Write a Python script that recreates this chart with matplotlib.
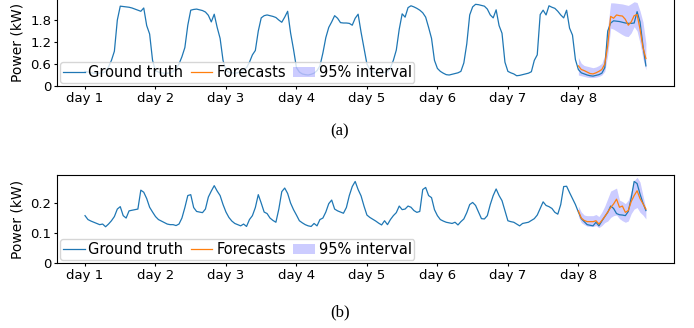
import matplotlib
matplotlib.use("Agg")
import matplotlib.pyplot as plt
import numpy as np

# x axis labels, one per day (hourly data)
day_labels = ["day 1", "day 2", "day 3", "day 4", "day 5", "day 6", "day 7", "day 8"]

# (a) ground truth, hourly, kW
truth_a = [
    0.40, 0.38, 0.36, 0.35, 0.34, 0.35, 0.36, 0.40, 0.52, 0.70, 0.95, 1.80, 2.18, 2.17, 2.16, 2.15, 2.13, 2.10, 2.07, 2.04, 2.13, 1.65, 1.42, 0.70,
    0.42, 0.38, 0.36, 0.35, 0.35, 0.36, 0.40, 0.48, 0.60, 0.80, 1.05, 1.66, 2.07, 2.09, 2.10, 2.08, 2.06, 2.02, 1.93, 1.75, 1.96, 1.60, 1.30, 0.70,
    0.42, 0.38, 0.36, 0.35, 0.36, 0.40, 0.45, 0.50, 0.65, 0.85, 0.97, 1.50, 1.86, 1.92, 1.94, 1.92, 1.90, 1.87, 1.80, 1.74, 1.88, 2.04, 1.45, 1.00,
    0.50, 0.38, 0.33, 0.31, 0.30, 0.32, 0.35, 0.42, 0.55, 0.90, 1.32, 1.60, 1.75, 1.92, 1.85, 1.73, 1.72, 1.72, 1.71, 1.66, 1.85, 1.96, 1.47, 1.04,
    0.60, 0.45, 0.38, 0.37, 0.36, 0.36, 0.37, 0.38, 0.50, 0.70, 0.98, 1.55, 1.97, 1.88, 2.14, 2.19, 2.16, 2.12, 2.07, 2.00, 1.88, 1.60, 1.30, 0.70,
    0.48, 0.40, 0.35, 0.31, 0.30, 0.32, 0.34, 0.36, 0.40, 0.63, 1.15, 1.94, 2.16, 2.23, 2.22, 2.20, 2.18, 2.10, 1.94, 1.86, 2.08, 1.65, 1.44, 0.65,
    0.40, 0.36, 0.33, 0.28, 0.29, 0.31, 0.33, 0.35, 0.39, 0.70, 0.85, 1.95, 2.07, 1.94, 2.19, 2.15, 2.12, 2.04, 1.94, 1.86, 2.07, 1.58, 1.39, 0.72,
    0.45, 0.36, 0.33, 0.30, 0.28, 0.27, 0.29, 0.31, 0.35, 0.50, 1.50, 1.72, 1.78, 1.77, 1.76, 1.74, 1.72, 1.71, 1.71, 1.72, 2.03, 1.75, 1.10, 0.55,
]
# (a) forecasts and 95% interval for day 8
fc_a = [0.55, 0.45, 0.42, 0.38, 0.34, 0.33, 0.36, 0.40, 0.45, 0.60, 1.10, 1.90, 1.85, 1.94, 1.92, 1.91, 1.82, 1.66, 1.75, 1.92, 1.95, 1.55, 1.05, 0.75]
hi_a = [0.78, 0.62, 0.56, 0.54, 0.52, 0.50, 0.52, 0.56, 0.62, 0.85, 1.60, 2.27, 2.27, 2.26, 2.25, 2.24, 2.22, 2.20, 2.25, 2.30, 2.28, 2.05, 1.75, 1.17]
lo_a = [0.30, 0.28, 0.26, 0.24, 0.23, 0.23, 0.24, 0.26, 0.30, 0.40, 0.85, 1.58, 1.55, 1.50, 1.45, 1.40, 1.36, 1.35, 1.45, 1.62, 1.50, 1.17, 0.75, 0.44]

# (b) ground truth, hourly, kW
truth_b = [
    0.158, 0.145, 0.140, 0.136, 0.132, 0.128, 0.130, 0.121, 0.130, 0.141, 0.155, 0.180, 0.188, 0.158, 0.150, 0.174, 0.176, 0.178, 0.180, 0.243, 0.236, 0.215, 0.186, 0.170,
    0.155, 0.145, 0.140, 0.135, 0.130, 0.128, 0.128, 0.125, 0.130, 0.150, 0.185, 0.225, 0.228, 0.185, 0.172, 0.170, 0.168, 0.180, 0.220, 0.240, 0.258, 0.240, 0.225, 0.195,
    0.170, 0.152, 0.140, 0.132, 0.128, 0.124, 0.130, 0.122, 0.145, 0.158, 0.185, 0.228, 0.200, 0.170, 0.165, 0.150, 0.142, 0.136, 0.180, 0.238, 0.250, 0.232, 0.200, 0.178,
    0.160, 0.141, 0.134, 0.128, 0.124, 0.122, 0.132, 0.124, 0.145, 0.150, 0.170, 0.198, 0.210, 0.180, 0.174, 0.170, 0.166, 0.185, 0.225, 0.255, 0.272, 0.245, 0.224, 0.190,
    0.160, 0.152, 0.146, 0.140, 0.133, 0.127, 0.141, 0.128, 0.145, 0.158, 0.168, 0.190, 0.178, 0.180, 0.190, 0.186, 0.175, 0.169, 0.172, 0.245, 0.252, 0.225, 0.218, 0.178,
    0.158, 0.145, 0.140, 0.136, 0.134, 0.132, 0.136, 0.127, 0.138, 0.147, 0.168, 0.195, 0.202, 0.192, 0.170, 0.148, 0.147, 0.158, 0.195, 0.225, 0.247, 0.225, 0.208, 0.175,
    0.141, 0.138, 0.136, 0.130, 0.124, 0.132, 0.134, 0.136, 0.142, 0.148, 0.160, 0.182, 0.204, 0.192, 0.188, 0.182, 0.169, 0.163, 0.195, 0.255, 0.256, 0.235, 0.215, 0.195,
    0.170, 0.148, 0.138, 0.128, 0.126, 0.124, 0.136, 0.124, 0.140, 0.155, 0.169, 0.190, 0.182, 0.165, 0.161, 0.160, 0.158, 0.172, 0.217, 0.272, 0.265, 0.230, 0.200, 0.175,
]
# (b) forecasts and 95% interval for day 8
fc_b = [0.174, 0.150, 0.142, 0.138, 0.138, 0.138, 0.141, 0.130, 0.142, 0.155, 0.170, 0.185, 0.197, 0.213, 0.186, 0.190, 0.169, 0.175, 0.205, 0.225, 0.241, 0.215, 0.198, 0.180]
hi_b = [0.190, 0.170, 0.160, 0.158, 0.158, 0.158, 0.162, 0.155, 0.170, 0.190, 0.215, 0.240, 0.245, 0.250, 0.210, 0.205, 0.198, 0.210, 0.240, 0.275, 0.286, 0.270, 0.225, 0.180]
lo_b = [0.155, 0.135, 0.128, 0.123, 0.122, 0.122, 0.125, 0.118, 0.125, 0.135, 0.140, 0.152, 0.158, 0.160, 0.148, 0.141, 0.136, 0.140, 0.165, 0.180, 0.185, 0.169, 0.160, 0.147]

hours = np.arange(len(truth_a))
fc_hours = np.arange(168, 168 + len(fc_a))
tick_pos = np.arange(0, 192, 24)

fig = plt.figure(figsize=(6.94, 3.28), dpi=100)
ax1 = fig.add_axes([0.0821, 0.7378, 0.889, 0.268])
ax2 = fig.add_axes([0.0821, 0.198, 0.889, 0.268])


def draw(ax, truth, fc, lo, hi, ymax, yticks, ylabels):
    ax.plot(hours, truth, color="tab:blue", lw=0.9, label="Ground truth")
    ax.plot(fc_hours, fc, color="tab:orange", lw=0.9, label="Forecasts")
    ax.fill_between(fc_hours, lo, hi, color="blue", alpha=0.2, lw=0, label="95% interval")
    ax.set_ylim(0, ymax)
    ax.set_yticks(yticks)
    ax.set_yticklabels(ylabels, fontsize=9.5)
    ax.set_xticks(tick_pos)
    ax.set_xticklabels(day_labels, fontsize=9.5)
    ax.tick_params(length=2, pad=2)
    ax.set_ylabel("Power (kW)", fontsize=10)
    ax.legend(loc="lower left", ncol=3, fontsize=10.5, handlelength=1.5,
              handletextpad=0.25, columnspacing=0.5, borderaxespad=0.2,
              borderpad=0.2)


draw(ax1, truth_a, fc_a, lo_a, hi_a, 2.4, [0, 0.6, 1.2, 1.8], ["0", "0.6", "1.2", "1.8"])
draw(ax2, truth_b, fc_b, lo_b, hi_b, 0.293, [0, 0.1, 0.2], ["0", "0.1", "0.2"])

fig.text(0.49, 0.6, "(a)", ha="center", va="center", fontsize=12, family="Liberation Serif")
fig.text(0.49, 0.048, "(b)", ha="center", va="center", fontsize=12, family="Liberation Serif")

fig.savefig("out.png", dpi=100)
